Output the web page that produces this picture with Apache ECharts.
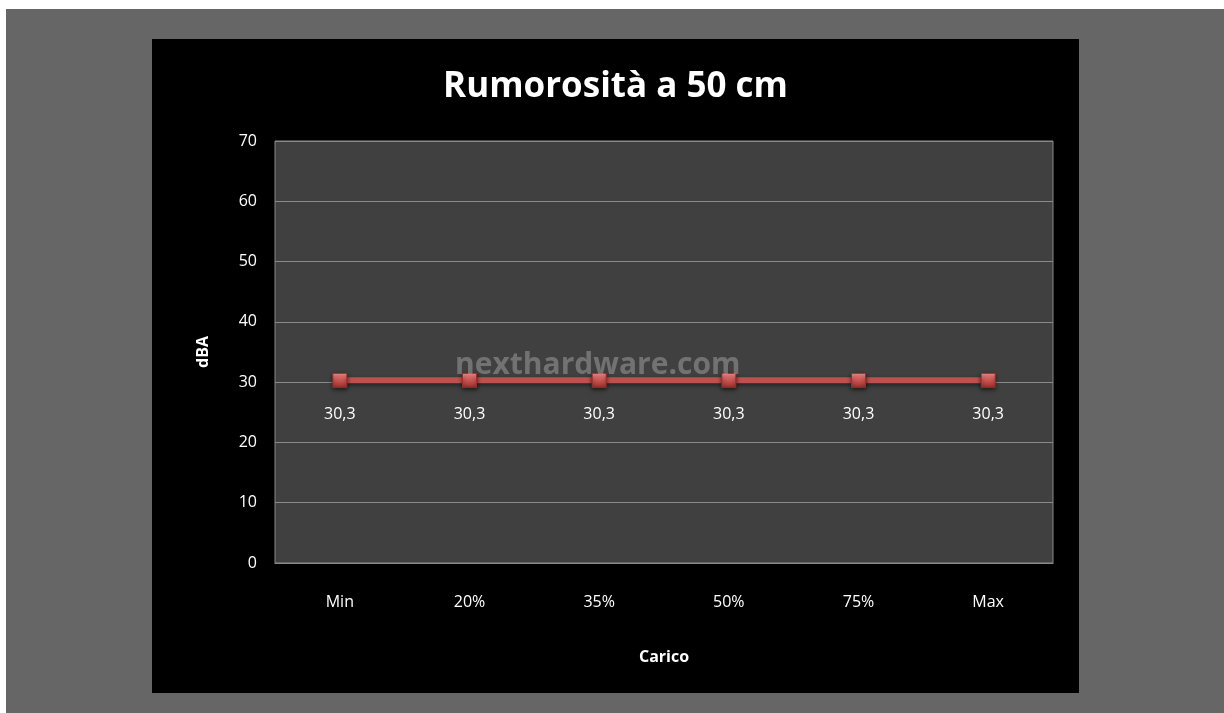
<!DOCTYPE html>
<html>
<head>
<meta charset="utf-8">
<script src="https://cdn.jsdelivr.net/npm/echarts@6/dist/echarts.min.js"></script>
<style>
  html, body { margin: 0; padding: 0; background: #ffffff; width: 1224px; height: 713px; overflow: hidden; }
  #frame { position: absolute; left: 6px; top: 9px; width: 1218px; height: 704px; background: #666666; }
  #chart { position: absolute; left: 146px; top: 30px; width: 927px; height: 654px; }
</style>
</head>
<body>
<div id="frame"><div id="chart"></div></div>
<script>
// carico levels and measured noise
const categories = ["Min", "20%", "35%", "50%", "75%", "Max"];
const noiseDba = [30.3, 30.3, 30.3, 30.3, 30.3, 30.3];
const yTicks = { min: 0, max: 70, interval: 10 };

const font = "'Open Sans', Lato, sans-serif";
const chart = echarts.init(document.getElementById("chart"));

chart.setOption({
  backgroundColor: "#000000",
  animation: false,
  title: {
    text: "Rumorosità a 50 cm",
    left: "center",
    top: 26,
    textStyle: { color: "#ffffff", fontFamily: font, fontSize: 35, fontWeight: "bold" }
  },
  grid: { left: 123, top: 102, width: 778, height: 422, show: true, backgroundColor: "#404040", borderColor: "#8a8a8a", borderWidth: 1 },
  xAxis: {
    type: "category",
    data: categories,
    boundaryGap: true,
    name: "Carico",
    nameLocation: "middle",
    nameGap: 86,
    nameTextStyle: { color: "#ffffff", fontFamily: font, fontSize: 16, fontWeight: "bold" },
    axisLine: { lineStyle: { color: "#8a8a8a" } },
    axisTick: { show: false },
    axisLabel: { color: "#ffffff", fontFamily: font, fontSize: 16, margin: 31 }
  },
  yAxis: {
    type: "value",
    min: yTicks.min,
    max: yTicks.max,
    interval: yTicks.interval,
    name: "dBA",
    nameLocation: "middle",
    nameGap: 64,
    nameTextStyle: { color: "#ffffff", fontFamily: font, fontSize: 16, fontWeight: "bold" },
    axisLine: { show: false },
    axisTick: { show: false },
    axisLabel: { color: "#ffffff", fontFamily: font, fontSize: 16, margin: 18 },
    splitLine: { lineStyle: { color: "#8a8a8a", width: 1 } }
  },
  series: [{
    type: "line",
    data: noiseDba,
    symbol: "rect",
    symbolSize: 14,
    lineStyle: { color: "#c0504d", width: 6, shadowColor: "rgba(0,0,0,0.5)", shadowBlur: 4, shadowOffsetY: 2 },
    itemStyle: {
      color: new echarts.graphic.LinearGradient(0, 0, 0, 1, [
        { offset: 0, color: "#ff9a9a" },
        { offset: 0.45, color: "#d05a57" },
        { offset: 1, color: "#9a2e2b" }
      ]),
      borderColor: "#9a2e2b",
      borderWidth: 1,
      shadowColor: "rgba(0,0,0,0.6)",
      shadowBlur: 4,
      shadowOffsetY: 2
    },
    label: {
      show: true,
      position: "bottom",
      distance: 19,
      color: "#ffffff",
      fontFamily: font,
      fontSize: 16,
      formatter: (p) => String(p.value).replace(".", ",")
    },
    z: 3
  }],
  graphic: [{
    type: "text",
    left: 303,
    top: 311,
    z: 10,
    style: {
      text: "nexthardware.com",
      fill: "rgba(190,190,190,0.4)",
      font: "bold 30px " + font
    }
  }]
});
</script>
</body>
</html>
